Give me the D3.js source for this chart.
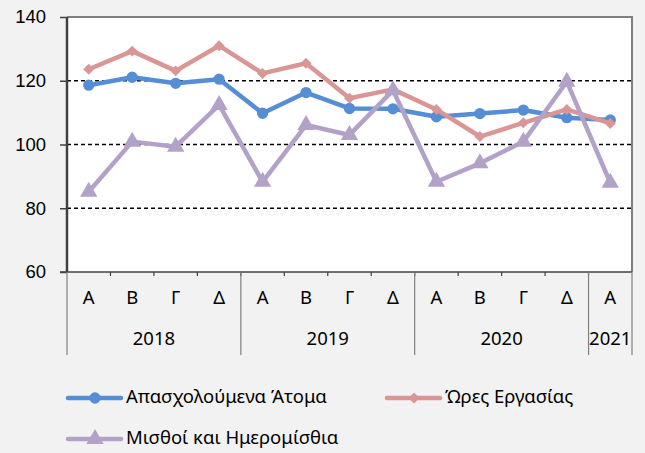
<!DOCTYPE html>
<html>
<head>
<meta charset="utf-8">
<script src="https://cdn.jsdelivr.net/npm/d3@7"></script>
<style>
    body { margin: 0; padding: 0; background: #f2f2f2; }
    svg { display: block; font-family: "Noto Sans", "Open Sans", sans-serif; }
    .lbl { font-size: 18.5px; fill: #000; }
</style>
</head>
<body>
<div id="chart"></div>
<script>
    // quarters and years along the x axis
    const quarters = ["Α", "Β", "Γ", "Δ", "Α", "Β", "Γ", "Δ", "Α", "Β", "Γ", "Δ", "Α"];
    const years = ["2018", "2019", "2020", "2021"];
    const yearSpans = [4, 4, 4, 1];
    const yTicks = [60, 80, 100, 120, 140];

    const employed = [118.6, 121.1, 119.2, 120.5, 109.8, 116.3, 111.3, 111.2, 108.7, 109.7, 110.8, 108.4, 107.7];
    const hours = [123.6, 129.3, 123.1, 131.0, 122.3, 125.5, 114.5, 117.3, 111.0, 102.5, 106.8, 111.0, 106.6];
    const wages = [85.2, 100.9, 99.3, 112.4, 88.3, 106.1, 103.0, 117.0, 88.3, 94.1, 100.9, 119.7, 88.0];

    const seriesNames = ["Απασχολούμενα Άτομα", "Ώρες Εργασίας", "Μισθοί και Ημερομίσθια"];
    const seriesColors = ["#558ed5", "#d99694", "#b3a2c7"];
    const seriesShapes = [d3.symbolCircle, d3.symbolSquare, d3.symbolTriangle];
    const seriesSizes = [100, 60, 130];
    const seriesRotate = [0, 45, 0];
    const seriesData = [employed, hours, wages];

    const W = 645, H = 453;
    const margin = { top: 17, right: 13, bottom: 181, left: 67 };
    const width = W - margin.left - margin.right;
    const height = H - margin.top - margin.bottom;

    const svg = d3.select("#chart").append("svg")
        .attr("width", W)
        .attr("height", H);

    svg.append("rect").attr("width", W).attr("height", H).attr("fill", "#f2f2f2");

    const g = svg.append("g").attr("transform", `translate(${margin.left},${margin.top})`);

    const x = d3.scaleBand().domain(d3.range(quarters.length)).range([0, width]);
    const y = d3.scaleLinear().domain([60, 140]).range([height, 0]);

    g.append("rect").attr("width", width).attr("height", height).attr("fill", "#fff");

    // top and right border of plot area
    g.append("path")
        .attr("d", `M0,${y(140)}H${width}V${height}`)
        .attr("fill", "none")
        .attr("stroke", "#808080")
        .attr("stroke-width", 2);

    // dashed gridlines
    g.selectAll(".grid")
        .data(yTicks.filter(d => d > 60 && d < 140))
        .enter().append("line")
        .attr("x1", 0).attr("x2", width)
        .attr("y1", d => y(d)).attr("y2", d => y(d))
        .attr("stroke", "#000")
        .attr("stroke-width", 1.6)
        .attr("stroke-dasharray", "4,3");

    // y axis
    const yAxis = g.append("g").call(d3.axisLeft(y).tickValues(yTicks).tickSize(7).tickPadding(14));
    yAxis.select(".domain").remove();
    yAxis.selectAll("line").attr("stroke", "#404040").attr("stroke-width", 1.5);
    yAxis.selectAll("text").attr("class", "lbl").attr("font-size", null).attr("font-family", null).attr("fill", "#000");
    g.append("line").attr("x1", 0).attr("x2", 0).attr("y1", 0).attr("y2", height)
        .attr("stroke", "#404040").attr("stroke-width", 2.5);

    // x axis base line and small quarter ticks
    g.append("line").attr("x1", -7).attr("x2", width).attr("y1", height).attr("y2", height)
        .attr("stroke", "#404040").attr("stroke-width", 1.5);
    g.selectAll(".qtick")
        .data(d3.range(1, quarters.length))
        .enter().append("line")
        .attr("x1", d => x(d)).attr("x2", d => x(d))
        .attr("y1", height).attr("y2", height + 4)
        .attr("stroke", "#404040").attr("stroke-width", 1.2);

    g.selectAll(".qlbl")
        .data(quarters)
        .enter().append("text")
        .attr("class", "lbl")
        .attr("x", (d, i) => x(i) + x.bandwidth() / 2)
        .attr("y", height + 27)
        .attr("dominant-baseline", "middle")
        .attr("text-anchor", "middle")
        .text(d => d);

    // year groups
    let start = 0;
    const yearBounds = [0];
    const yearMid = [];
    yearSpans.forEach(s => {
        yearMid.push(start + s / 2);
        start += s;
        yearBounds.push(start);
    });
    g.selectAll(".ysep")
        .data(yearBounds)
        .enter().append("line")
        .attr("x1", d => d === quarters.length ? width : x(d))
        .attr("x2", d => d === quarters.length ? width : x(d))
        .attr("y1", height).attr("y2", height + 83)
        .attr("stroke", "#808080").attr("stroke-width", 1.2);
    g.selectAll(".ylbl")
        .data(years)
        .enter().append("text")
        .attr("class", "lbl")
        .attr("x", (d, i) => yearMid[i] * x.step())
        .attr("y", height + 68)
        .attr("dominant-baseline", "middle")
        .attr("text-anchor", "middle")
        .text(d => d);

    // series
    const line = d3.line()
        .x((d, i) => x(i) + x.bandwidth() / 2)
        .y(d => y(d));

    seriesData.forEach((vals, k) => {
        g.append("path")
            .datum(vals)
            .attr("d", line)
            .attr("fill", "none")
            .attr("stroke", seriesColors[k])
            .attr("stroke-width", 4.5)
            .attr("stroke-linejoin", "round");
        g.selectAll(".m" + k)
            .data(vals)
            .enter().append("path")
            .attr("d", d3.symbol().type(seriesShapes[k]).size(seriesSizes[k]))
            .attr("transform", (d, i) => `translate(${x(i) + x.bandwidth() / 2},${y(d)}) rotate(${seriesRotate[k]})`)
            .attr("fill", seriesColors[k]);
    });

    // legend
    const legendPos = [[68, 398], [387, 398], [68, 439]];
    seriesNames.forEach((name, k) => {
        const lg = svg.append("g").attr("transform", `translate(${legendPos[k][0]},${legendPos[k][1]})`);
        lg.append("line").attr("x1", 0).attr("x2", 53).attr("y1", 0).attr("y2", 0)
            .attr("stroke", seriesColors[k]).attr("stroke-width", 4.5).attr("stroke-linecap", "round");
        lg.append("path")
            .attr("d", d3.symbol().type(seriesShapes[k]).size(seriesSizes[k]))
            .attr("transform", `translate(27,0) rotate(${seriesRotate[k]})`)
            .attr("fill", seriesColors[k]);
        lg.append("text").attr("class", "lbl")
            .attr("x", 58).attr("y", 0)
            .attr("dominant-baseline", "middle")
            .text(name);
    });
</script>
</body>
</html>
